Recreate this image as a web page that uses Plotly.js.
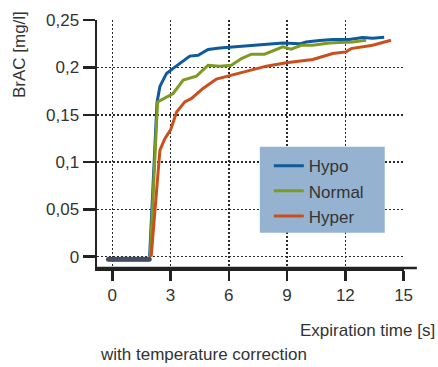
<!DOCTYPE html>
<html>
<head>
<meta charset="utf-8">
<script src="https://cdn.plot.ly/plotly-3.0.1.min.js"></script>
<style>html,body{margin:0;padding:0;background:#fff;}#chart{width:438px;height:367px;}</style>
</head>
<body>
<div id="chart"></div>
<script>
// Baseline (before expiration starts)
const baseX = [-0.2, -0.1, 0, 0.1, 0.2, 0.3, 0.4, 0.5, 0.6, 0.7, 0.8, 0.9, 1.0, 1.1, 1.2, 1.3, 1.4, 1.5, 1.6, 1.7, 1.8, 1.9];
const baseY = [-0.0027, -0.0027, -0.0027, -0.0027, -0.0027, -0.0027, -0.0027, -0.0027, -0.0027, -0.0027, -0.0027, -0.0027, -0.0027, -0.0027, -0.0027, -0.0027, -0.0027, -0.0027, -0.0027, -0.0027, -0.0027, -0.0027];

const hypoX = [1.92, 2.3, 2.45, 2.79, 3.13, 3.56, 3.99, 4.42, 4.93, 5.53, 6.56, 7.59, 8.78, 9.64, 9.98, 10.67, 11.35, 12.2, 12.89, 13.4, 14.0];
const hypoY = [0, 0.163, 0.18, 0.1937, 0.199, 0.206, 0.212, 0.213, 0.219, 0.2207, 0.2222, 0.2235, 0.226, 0.225, 0.227, 0.2285, 0.2297, 0.2297, 0.2317, 0.231, 0.232];

const normalX = [1.95, 2.33, 3.13, 3.65, 4.33, 4.93, 5.53, 6.13, 6.65, 7.16, 7.84, 8.27, 8.78, 9.21, 9.73, 10.32, 11.18, 11.7, 12.38, 13.07];
const normalY = [0, 0.1637, 0.1725, 0.1866, 0.1908, 0.2024, 0.2014, 0.2024, 0.2095, 0.214, 0.214, 0.2175, 0.2218, 0.2193, 0.2235, 0.2235, 0.226, 0.2264, 0.227, 0.2288];

const hyperX = [2.0, 2.45, 2.71, 3.0, 3.31, 3.73, 4.08, 4.67, 5.36, 6.13, 6.56, 7.93, 8.96, 10.32, 11.35, 12.04, 12.3, 13.4, 14.35];
const hyperY = [0, 0.1127, 0.125, 0.134, 0.153, 0.1637, 0.1673, 0.1778, 0.1878, 0.1919, 0.1943, 0.2014, 0.2049, 0.2084, 0.2148, 0.2165, 0.22, 0.2235, 0.2288];

const seriesNames = ['Hypo', 'Normal', 'Hyper'];
const xTicks = [0, 3, 6, 9, 12, 15];
const xTickText = ['0', '3', '6', '9', '12', '15'];
const yTicks = [0, 0.05, 0.1, 0.15, 0.2, 0.25];
const yTickText = ['0', '0,05', '0,1', '0,15', '0,2', '0,25'];

const FONT = 'Liberation Sans, Arial, sans-serif';
const TXT = '#333333';
const colors = ['#0e5a9c', '#7f9a22', '#cb4f1c'];

const traces = [
  {x: baseX, y: baseY, mode: 'lines+markers', showlegend: false, hoverinfo: 'skip',
   line: {color: '#464c64', width: 4}, marker: {color: '#464c64', size: 5}},
  {x: hypoX, y: hypoY, name: seriesNames[0], mode: 'lines', line: {color: colors[0], width: 3}},
  {x: normalX, y: normalY, name: seriesNames[1], mode: 'lines', line: {color: colors[1], width: 3}},
  {x: hyperX, y: hyperY, name: seriesNames[2], mode: 'lines', line: {color: colors[2], width: 3}}
];

const layout = {
  width: 438, height: 367,
  margin: {l: 97, r: 34, t: 20, b: 99},
  paper_bgcolor: '#ffffff', plot_bgcolor: '#ffffff',
  font: {family: FONT, size: 17, color: TXT},
  showlegend: true,
  legend: {
    x: 0.5597, y: 0.483, xanchor: 'left', yanchor: 'top',
    bgcolor: 'rgba(0,0,0,0)', borderwidth: 0,
    font: {family: FONT, size: 17, color: TXT}
  },
  xaxis: {
    range: [-0.79, 15.02],
    tickvals: xTicks, ticktext: xTickText,
    ticks: 'outside', ticklen: 10, tickwidth: 2.5, tickcolor: '#222',
    showline: true, linecolor: '#222', linewidth: 2.5,
    showgrid: true, gridcolor: '#2a2a2a', gridwidth: 1.6, griddash: '1.6px,2.4px',
    zeroline: false,
    tickfont: {family: FONT, size: 17, color: TXT}
  },
  yaxis: {
    range: [-0.012, 0.2502],
    tickvals: yTicks, ticktext: yTickText,
    ticks: 'outside', ticklen: 12, tickwidth: 2.5, tickcolor: '#222',
    showline: true, linecolor: '#222', linewidth: 2.5,
    showgrid: true, gridcolor: '#2a2a2a', gridwidth: 1.6, griddash: '1.6px,2.4px',
    zeroline: false,
    tickfont: {family: FONT, size: 17, color: TXT}
  },
  shapes: [
    {type: 'line', xref: 'paper', yref: 'paper', x0: 0, x1: 1.042, y0: 0, y1: 0,
     line: {color: '#222', width: 2.5}, layer: 'above'},
    {type: 'rect', xref: 'paper', yref: 'paper', x0: 0.5304, x1: 0.9372, y0: 0.1423, y1: 0.4891,
     fillcolor: '#95b3d0', line: {width: 0}, layer: 'above'}
  ],
  annotations: [
    {text: 'BrAC [mg/l]', xref: 'paper', yref: 'paper', x: -0.2506, y: 0.8589,
     xanchor: 'center', yanchor: 'middle', textangle: -90, showarrow: false,
     font: {family: FONT, size: 17, color: TXT}},
    {text: 'Expiration time [s]', xref: 'paper', yref: 'paper', x: 1.1064, y: -0.25,
     xanchor: 'right', yanchor: 'middle', showarrow: false,
     font: {family: FONT, size: 17, color: TXT}},
    {text: 'with temperature correction', xref: 'paper', yref: 'paper', x: 0.0033, y: -0.3508,
     xanchor: 'left', yanchor: 'middle', showarrow: false,
     font: {family: FONT, size: 17, color: TXT}}
  ]
};

Plotly.newPlot('chart', traces, layout, {displayModeBar: false, staticPlot: true});
</script>
</body>
</html>
